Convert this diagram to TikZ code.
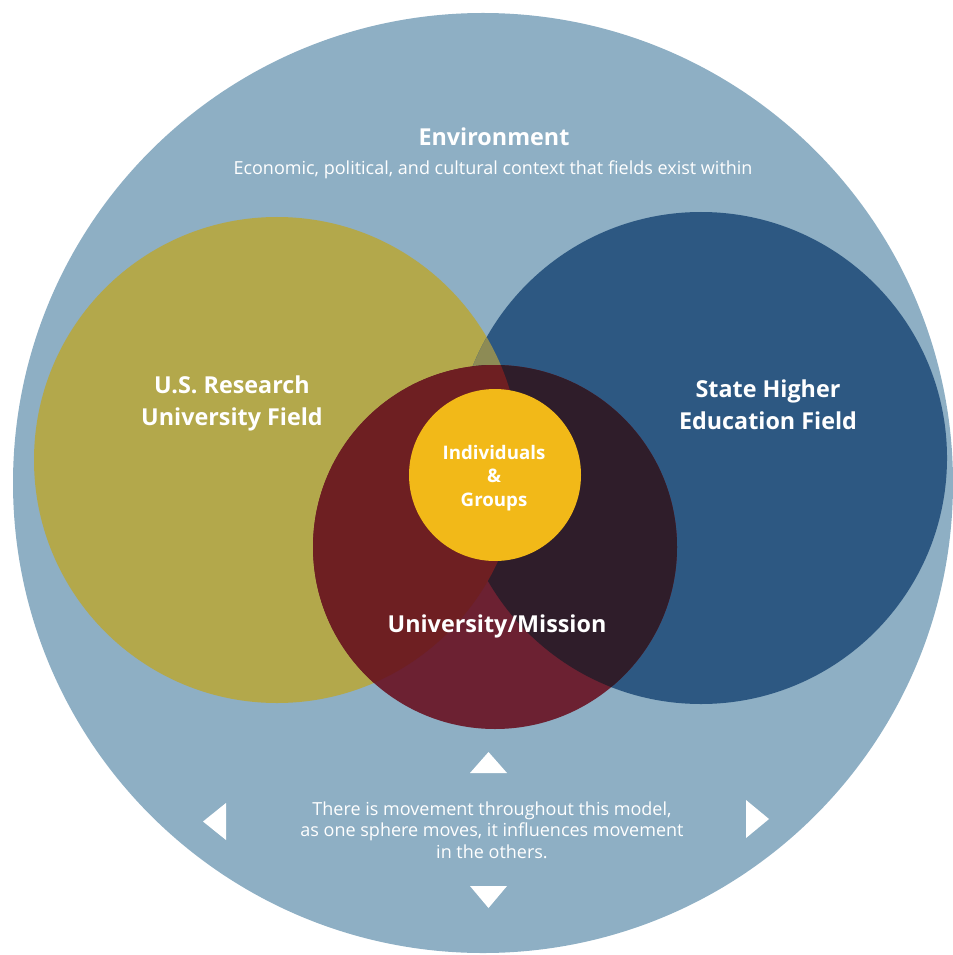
\documentclass[tikz,border=0pt]{standalone}
\usepackage{fontspec}
\setmainfont{Open Sans}
\usepackage{xcolor}
\usepackage{tikz}
\usetikzlibrary{positioning}

\definecolor{envblue}{RGB}{142,175,196}
\definecolor{fieldolive}{RGB}{179,168,75}
\definecolor{fieldblue}{RGB}{45,88,130}
\definecolor{olivemix}{RGB}{141,139,85}
\definecolor{missionred}{RGB}{108,33,50}
\definecolor{missionolive}{RGB}{110,31,34}
\definecolor{missiondark}{RGB}{47,29,42}
\definecolor{groupyellow}{RGB}{242,185,24}

\begin{document}
\begin{tikzpicture}[x=0.75pt,y=0.75pt,yscale=-1,xscale=1,
	lbl/.style={text=white,font=\bfseries\fontsize{17.5}{24}\selectfont,align=center,inner sep=0.75pt},
	smalllbl/.style={text=white,font=\bfseries\fontsize{14}{17.5}\selectfont,align=center,inner sep=0.75pt},
	note/.style={text=white,font=\fontsize{13.5}{16}\selectfont,align=center,inner sep=0.75pt}]
		\useasboundingbox (0,0) rectangle (952,955);
		
		%Shape: Circle [environment]
		\fill [envblue] (483,483) circle (470);
		%Shape: Circle [research field]
		\fill [fieldolive] (277,460) circle (243);
		%Shape: Circle [state field]
		\fill [fieldblue] (701,458) circle (246);
		%Overlap of the two fields
		\begin{scope}
			\clip (277,460) circle (243);
			\fill [olivemix] (701,458) circle (246);
		\end{scope}
		%Shape: Circle [university/mission]
		\fill [missionred] (495,547) circle (182);
		\begin{scope}
			\clip (495,547) circle (182);
			\fill [missiondark] (701,458) circle (246);
			\fill [missionolive] (277,460) circle (243);
		\end{scope}
		%Shape: Circle [individuals & groups]
		\fill [groupyellow] (495,475) circle (86);
		
		%Triangles
		\fill [white] (470,773) -- (507,773) -- (488.5,752) -- cycle ;
		\fill [white] (470,886) -- (507,886) -- (488.5,908) -- cycle ;
		\fill [white] (226,803) -- (226,840) -- (203,821.5) -- cycle ;
		\fill [white] (746,800) -- (746,838) -- (769,819) -- cycle ;
		
		% Text Node
		\node [lbl] (env) at (494,137) {Environment};
		% Text Node
		\node [note] (envtext) at (493,170) {Economic, political, and cultural context that fields exist within};
		% Text Node
		\node [lbl] (research) at (232,403) {U.S. Research\\University Field};
		% Text Node
		\node [lbl] (state) at (768,405) {State Higher\\Education Field};
		% Text Node
		\node [smalllbl] (groups) at (494,478) {Individuals\\\&\\Groups};
		% Text Node
		\node [lbl] (mission) at (497,626) {University/Mission};
		% Text Node
		\node [note] (movement) at (492,830) {There is movement throughout this model,\\as one sphere moves, it influences movement\\in the others.};
		
\end{tikzpicture}
\end{document}
